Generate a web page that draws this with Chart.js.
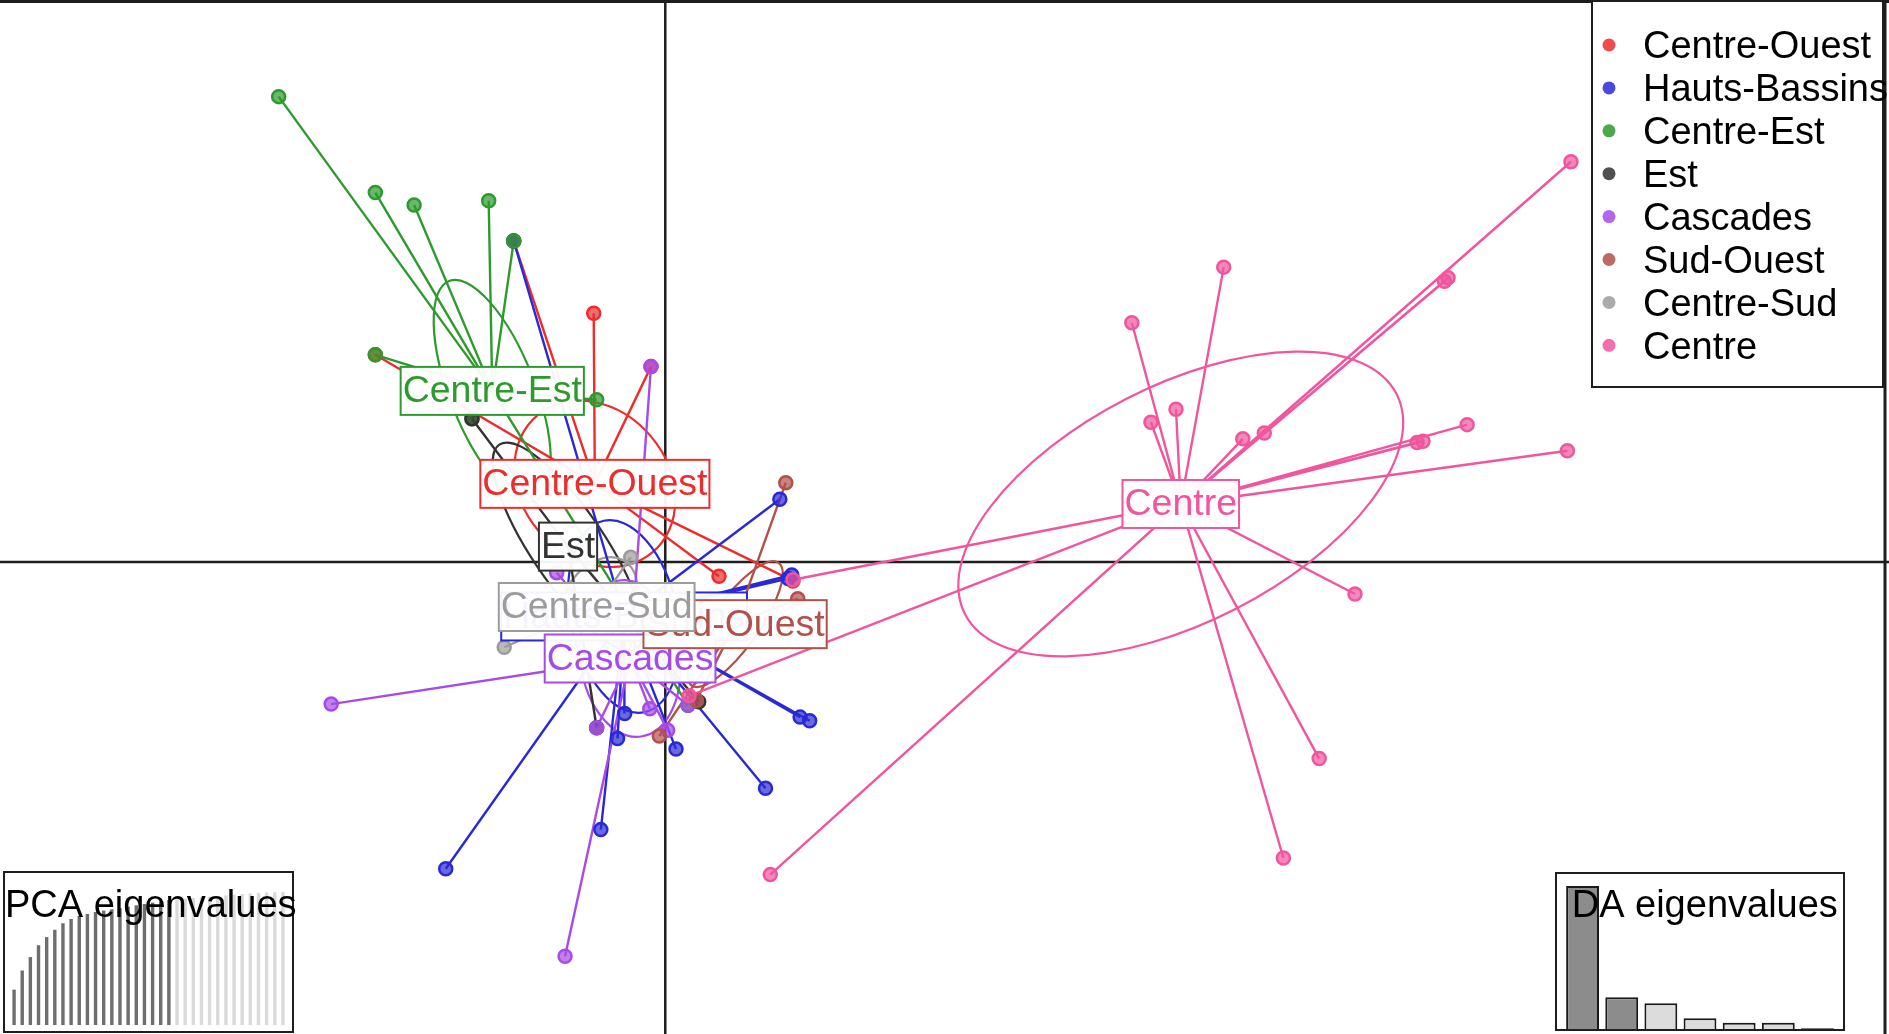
<!DOCTYPE html>
<html>
<head>
<meta charset="utf-8">
<title>DAPC scatter</title>
<script src="https://cdn.jsdelivr.net/npm/chart.js@4.4.1/dist/chart.umd.min.js"></script>
<style>
  html, body { margin: 0; padding: 0; background: #fff; }
  #wrap { position: relative; width: 1889px; height: 1034px; overflow: hidden; }
  .box { position: absolute; }
  #mainBox { left: 0; top: 0; width: 1889px; height: 1034px; }
  #pcaBox { left: 0; top: 866px; width: 310px; height: 168px; }
  #daBox { left: 1555px; top: 872px; width: 290px; height: 159px; }
</style>
</head>
<body>
<div id="wrap">
  <div class="box" id="mainBox"><canvas id="main"></canvas></div>
  <div class="box" id="pcaBox"><canvas id="pca"></canvas></div>
  <div class="box" id="daBox"><canvas id="da"></canvas></div>
</div>
<script>
(function () {
  'use strict';

  var FONT = '"Liberation Sans", Arial, sans-serif';

  // groups, in legend order
  var regions = ['Centre-Ouest', 'Hauts-Bassins', 'Centre-Est', 'Est', 'Cascades', 'Sud-Ouest', 'Centre-Sud', 'Centre'];
  var regionColors = ['#EE2C2C', '#2929D6', '#2C9A2C', '#333333', '#A64BEA', '#B2504A', '#9C9C9C', '#F0559E'];

  // group centroids (LD1, LD2)
  var centroidX = [-0.59, -0.345, -1.45, -0.815, -0.295, 0.585, -0.575, 4.32];
  var centroidY = [0.66, -0.46, 1.445, 0.13, -0.815, -0.525, -0.38, 0.49];

  // individuals per group (LD1)
  var indivX = [
    [-0.60, -0.12, -2.43, -1.27, 0.45, 1.07],
    [-1.27, 0.96, 1.06, 1.03, -0.34, -0.40, 0.09, 1.13, 1.21, 0.84, -0.54, -1.84],
    [-3.24, -2.43, -2.105, -1.48, -1.27, -2.43, -0.575, -1.62, 0.19],
    [-1.62, 0.28, -0.575],
    [-0.12, -2.80, -0.84, 0.19, -0.13, -0.575, 0.02, -0.91],
    [1.01, -0.05, 0.26, 1.11],
    [-0.29, -1.35],
    [7.59, 6.56, 6.53, 4.68, 3.91, 4.28, 4.07, 4.84, 5.02, 6.72, 6.35, 6.30, 7.56, 5.78, 5.48, 5.18, 0.88, 1.07, 0.20]
  ];
  // individuals per group (LD2)
  var indivY = [
    [2.10, 1.65, 1.75, 2.71, -0.12, -0.16],
    [2.71, 0.53, -0.11, -0.14, -1.28, -1.49, -1.58, -1.31, -1.34, -1.91, -2.26, -2.59],
    [3.93, 3.12, 3.015, 3.05, 2.71, 1.75, 1.37, 1.21, -1.21],
    [1.21, -1.18, -1.40],
    [1.65, -1.20, -3.33, -1.21, -1.24, -1.40, -1.42, -0.09],
    [0.67, -1.47, -1.17, -0.31],
    [0.04, -0.72],
    [3.38, 2.40, 2.37, 2.49, 2.02, 1.29, 1.18, 1.04, 1.09, 1.16, 1.02, 1.01, 0.94, -0.27, -1.66, -2.50, -2.64, -0.15, -1.13]
  ];

  // inertia ellipses: semi-axes and angle (degrees)
  var ellipseA = [0.75, 0.82, 0.99, 1.03, 0.66, 0.63, 0.45, 2.03];
  var ellipseB = [0.62, 0.45, 0.36, 0.31, 0.42, 0.20, 0.30, 1.00];
  var ellipseAngle = [-50, -78, -68.6, -56, -82, 54.7, 60, 27];

  var xRange = [-5.50, 10.18];
  var yRange = [-3.91, 4.67];

  // cumulative PCA variance, 20 axes retained
  var pcaEigen = [0.266, 0.41, 0.511, 0.60, 0.661, 0.716, 0.765, 0.797, 0.82, 0.835, 0.85, 0.86, 0.87, 0.88, 0.89,
    0.90, 0.91, 0.92, 0.93, 0.94, 0.945, 0.95, 0.955, 0.96, 0.965, 0.97, 0.975, 0.98, 0.985, 0.99, 0.993, 0.996, 0.998, 1.0];
  var pcaKept = 20;
  // DA eigenvalues, 2 retained
  var daEigen = [43.2, 9.8, 8.0, 3.5, 2.2, 2.2, 0.5];
  var daKept = 2;

  function rgba(hex, a) {
    var n = parseInt(hex.slice(1), 16);
    return 'rgba(' + (n >> 16) + ',' + ((n >> 8) & 255) + ',' + (n & 255) + ',' + a + ')';
  }

  function drawUnder(chart) {
    var ctx = chart.ctx, sx = chart.scales.x, sy = chart.scales.y;
    var ux = sx.getPixelForValue(1) - sx.getPixelForValue(0);
    var uy = sy.getPixelForValue(0) - sy.getPixelForValue(1);
    ctx.save();
    // axes through the origin
    ctx.strokeStyle = '#1e1e1e';
    ctx.lineWidth = 2.5;
    ctx.beginPath();
    ctx.moveTo(sx.getPixelForValue(0), 0);
    ctx.lineTo(sx.getPixelForValue(0), chart.height);
    ctx.moveTo(0, sy.getPixelForValue(0));
    ctx.lineTo(chart.width, sy.getPixelForValue(0));
    ctx.stroke();
    // ellipses
    ctx.lineWidth = 2.2;
    regions.forEach(function (name, g) {
      ctx.strokeStyle = regionColors[g];
      ctx.beginPath();
      ctx.ellipse(sx.getPixelForValue(centroidX[g]), sy.getPixelForValue(centroidY[g]),
        ellipseA[g] * ux, ellipseB[g] * uy, -ellipseAngle[g] * Math.PI / 180, 0, 2 * Math.PI);
      ctx.stroke();
    });
    ctx.restore();
  }

  function drawLabels(chart) {
    var ctx = chart.ctx, sx = chart.scales.x, sy = chart.scales.y;
    ctx.save();
    ctx.font = '37.5px ' + FONT;
    ctx.textAlign = 'center';
    ctx.textBaseline = 'middle';
    regions.forEach(function (name, g) {
      var px = sx.getPixelForValue(centroidX[g]);
      var py = sy.getPixelForValue(centroidY[g]);
      var w = ctx.measureText(name).width + 4;
      var h = 48;
      ctx.fillStyle = 'rgba(255,255,255,0.95)';
      ctx.fillRect(px - w / 2, py - h / 2, w, h);
      ctx.strokeStyle = regionColors[g];
      ctx.lineWidth = 2;
      ctx.strokeRect(px - w / 2, py - h / 2, w, h);
      ctx.fillStyle = regionColors[g];
      ctx.fillText(name, px, py + 1);
    });
    ctx.restore();
  }

  function drawLegend(chart) {
    var ctx = chart.ctx;
    ctx.save();
    // outer frame (top and right)
    ctx.strokeStyle = '#1e1e1e';
    ctx.lineWidth = 3;
    ctx.beginPath();
    ctx.moveTo(0, 1.5);
    ctx.lineTo(chart.width, 1.5);
    ctx.moveTo(1885, 0);
    ctx.lineTo(1885, chart.height);
    ctx.stroke();
    // legend box
    ctx.fillStyle = '#fff';
    ctx.fillRect(1592, 1, 291, 386);
    ctx.lineWidth = 2;
    ctx.strokeRect(1592, 1, 291, 386);
    ctx.font = '38px ' + FONT;
    ctx.textAlign = 'left';
    ctx.textBaseline = 'alphabetic';
    regions.forEach(function (name, g) {
      var y = 45 + 42.9 * g;
      ctx.fillStyle = rgba(regionColors[g], 0.85);
      ctx.beginPath();
      ctx.arc(1609, y, 6.5, 0, 2 * Math.PI);
      ctx.fill();
      ctx.fillStyle = '#000';
      ctx.fillText(name, 1643, y + 13.3);
    });
    ctx.restore();
  }

  var datasets = [];
  regions.forEach(function (name, g) {
    var pts = indivX[g].map(function (x, i) { return { x: x, y: indivY[g][i] }; });
    datasets.push({
      label: name,
      type: 'scatter',
      data: pts,
      pointRadius: 6.5,
      pointBackgroundColor: rgba(regionColors[g], 0.7),
      pointBorderColor: regionColors[g],
      pointBorderWidth: 2.5,
      order: -g
    });
  });
  regions.forEach(function (name, g) {
    var star = [];
    indivX[g].forEach(function (x, i) {
      star.push({ x: centroidX[g], y: centroidY[g] });
      star.push({ x: x, y: indivY[g][i] });
    });
    datasets.push({
      label: name + ' star',
      type: 'line',
      data: star,
      showLine: true,
      borderColor: regionColors[g],
      borderWidth: 2.4,
      pointRadius: 0,
      fill: false,
      tension: 0,
      order: 20 - g
    });
  });

  new Chart(document.getElementById('main'), {
    type: 'scatter',
    data: { datasets: datasets },
    options: {
      responsive: true,
      maintainAspectRatio: false,
      animation: false,
      events: [],
      layout: { padding: 0 },
      scales: {
        x: { type: 'linear', min: xRange[0], max: xRange[1], display: false },
        y: { type: 'linear', min: yRange[0], max: yRange[1], display: false }
      },
      plugins: { legend: { display: false }, tooltip: { enabled: false } }
    },
    plugins: [{
      id: 'dapcDecor',
      beforeDatasetsDraw: drawUnder,
      afterDatasetsDraw: drawLabels,
      afterDraw: drawLegend
    }]
  });

  function insetPlugin(box, title, tx, ty) {
    return {
      id: 'inset',
      beforeDraw: function (chart) {
        var ctx = chart.ctx;
        ctx.save();
        ctx.fillStyle = '#fff';
        ctx.fillRect(box[0], box[1], box[2], box[3]);
        ctx.restore();
      },
      afterDraw: function (chart) {
        var ctx = chart.ctx;
        ctx.save();
        ctx.strokeStyle = '#1e1e1e';
        ctx.lineWidth = 2;
        ctx.strokeRect(box[0], box[1], box[2], box[3]);
        ctx.font = '38px ' + FONT;
        ctx.fillStyle = '#000';
        ctx.textBaseline = 'alphabetic';
        ctx.fillText(title, tx, ty);
        ctx.restore();
      }
    };
  }

  new Chart(document.getElementById('pca'), {
    type: 'bar',
    data: {
      labels: pcaEigen.map(function (v, i) { return String(i + 1); }),
      datasets: [{
        data: pcaEigen,
        backgroundColor: pcaEigen.map(function (v, i) { return i < pcaKept ? '#6e6e6e' : '#dadada'; }),
        barPercentage: 0.42,
        categoryPercentage: 1
      }]
    },
    options: {
      responsive: true,
      maintainAspectRatio: false,
      animation: false,
      events: [],
      layout: { padding: { left: 10, right: 23, top: 26, bottom: 9 } },
      scales: { x: { display: false }, y: { display: false, min: 0, max: 1 } },
      plugins: { legend: { display: false }, tooltip: { enabled: false } }
    },
    plugins: [insetPlugin([4, 6, 289, 160], 'PCA eigenvalues', 5, 50.7)]
  });

  new Chart(document.getElementById('da'), {
    type: 'bar',
    data: {
      labels: daEigen.map(function (v, i) { return String(i + 1); }),
      datasets: [{
        data: daEigen,
        backgroundColor: daEigen.map(function (v, i) { return i < daKept ? '#8c8c8c' : '#dcdcdc'; }),
        borderColor: '#1a1a1a',
        borderWidth: 2,
        barPercentage: 0.84,
        categoryPercentage: 1
      }]
    },
    options: {
      responsive: true,
      maintainAspectRatio: false,
      animation: false,
      events: [],
      layout: { padding: { left: 8, right: 8, top: 14, bottom: 1 } },
      scales: { x: { display: false }, y: { display: false, min: 0, max: daEigen[0] } },
      plugins: { legend: { display: false }, tooltip: { enabled: false } }
    },
    plugins: [insetPlugin([1, 1, 288, 157], 'DA eigenvalues', 16.7, 44.7)]
  });
})();
</script>
</body>
</html>
